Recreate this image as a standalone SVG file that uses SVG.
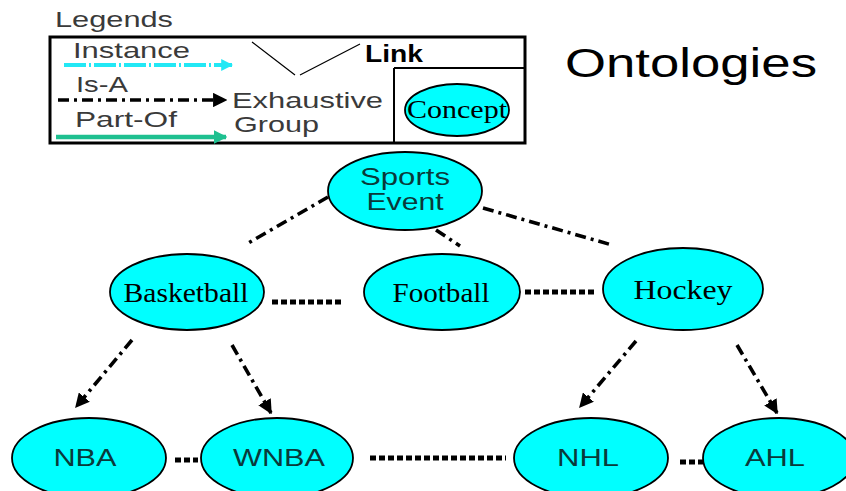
<svg xmlns="http://www.w3.org/2000/svg" width="846" height="491" viewBox="0 0 846 491">
<defs>
<style>
.node{fill:#00ffff;stroke:#000;stroke-width:1.8}
.sans{font-family:"Liberation Sans",Arial,sans-serif}
.serif{font-family:"Liberation Serif","Times New Roman",serif;fill:#000}
.lbl{fill:#0a3a3a;font-size:24px}
.leg{fill:#3a3a3a;font-size:22px}
.isa{fill:none;stroke:#000;stroke-width:3.6;stroke-dasharray:11 5 3 5}
.dots{fill:none;stroke:#000;stroke-width:5;stroke-dasharray:6 3}
</style>
<marker id="ah" viewBox="0 0 10 10" refX="9" refY="5" markerWidth="4" markerHeight="4" orient="auto" markerUnits="strokeWidth">
<path d="M0,0 L10,5 L0,10 z" fill="#000"/>
</marker>
<marker id="ahc" viewBox="0 0 10 10" refX="9" refY="5" markerWidth="3" markerHeight="3" orient="auto" markerUnits="strokeWidth">
<path d="M0,0 L10,5 L0,10 z" fill="#22e8f5"/>
</marker>
<marker id="ahg" viewBox="0 0 10 10" refX="9" refY="5" markerWidth="3" markerHeight="3" orient="auto" markerUnits="strokeWidth">
<path d="M0,0 L10,5 L0,10 z" fill="#1ec090"/>
</marker>
</defs>
<rect width="846" height="491" fill="#fff"/>

<g id="legend">
<text class="sans leg" x="55" y="27" textLength="118" lengthAdjust="spacingAndGlyphs">Legends</text>
<rect x="50" y="37" width="475" height="106" fill="none" stroke="#000" stroke-width="3"/>
<path d="M394,68 V143 M394,68 H525" fill="none" stroke="#000" stroke-width="2"/>
<text class="sans leg" x="73" y="58" textLength="117" lengthAdjust="spacingAndGlyphs">Instance</text>
<line x1="64" y1="65" x2="232" y2="65" stroke="#22e8f5" stroke-width="4" stroke-dasharray="22 3 2 3" marker-end="url(#ahc)"/>
<text class="sans leg" x="76" y="92" textLength="52" lengthAdjust="spacingAndGlyphs">Is-A</text>
<line x1="58" y1="100" x2="226" y2="100" class="isa" stroke-width="4.2" stroke-dasharray="12 6 4 6" marker-end="url(#ah)"/>
<text class="sans leg" x="75" y="127" textLength="102" lengthAdjust="spacingAndGlyphs">Part-Of</text>
<line x1="56" y1="137" x2="226" y2="137" stroke="#1ec090" stroke-width="4.5" marker-end="url(#ahg)"/>
<text class="sans leg" x="232" y="108" textLength="151" lengthAdjust="spacingAndGlyphs">Exhaustive</text>
<text class="sans leg" x="234" y="132" textLength="85" lengthAdjust="spacingAndGlyphs">Group</text>
<path d="M252,42 L295,75 M300,75 L360,44" fill="none" stroke="#000" stroke-width="1.2"/>
<text class="sans" x="365" y="62" font-size="23" font-weight="bold" fill="#000" textLength="58" lengthAdjust="spacingAndGlyphs">Link</text>
<ellipse class="node" cx="457" cy="110" rx="52" ry="26"/>
<text class="serif" x="407" y="118" font-size="25" textLength="100" lengthAdjust="spacingAndGlyphs">Concept</text>
</g>

<text class="sans" x="565" y="77" font-size="40" fill="#000" textLength="252" lengthAdjust="spacingAndGlyphs">Ontologies</text>

<g id="connectors">
<line x1="328" y1="197" x2="245" y2="245" class="isa"/>
<line x1="436" y1="230" x2="460" y2="246" class="isa"/>
<line x1="483" y1="208" x2="612" y2="245" class="isa"/>
<line x1="132" y1="340" x2="76" y2="407" class="isa" marker-end="url(#ah)"/>
<line x1="232" y1="345" x2="271" y2="413" class="isa" marker-end="url(#ah)"/>
<line x1="636" y1="341" x2="580" y2="407" class="isa" marker-end="url(#ah)"/>
<line x1="737" y1="345" x2="777" y2="413" class="isa" marker-end="url(#ah)"/>
<line x1="272" y1="302" x2="344" y2="302" class="dots"/>
<line x1="525" y1="292" x2="596" y2="292" class="dots"/>
<line x1="175" y1="460" x2="198" y2="460" class="dots"/>
<line x1="370" y1="458" x2="506" y2="458" class="dots"/>
<line x1="680" y1="462" x2="703" y2="462" class="dots"/>
</g>

<g id="sports-event">
<ellipse class="node" cx="405" cy="191" rx="77" ry="39"/>
<text class="sans lbl" x="405" y="185" text-anchor="middle" textLength="90" lengthAdjust="spacingAndGlyphs">Sports</text>
<text class="sans lbl" x="405" y="210" text-anchor="middle" textLength="77" lengthAdjust="spacingAndGlyphs">Event</text>
</g>
<g id="basketball">
<ellipse class="node" cx="187" cy="292" rx="77" ry="38"/>
<text class="serif" x="186" y="302" font-size="28" text-anchor="middle" textLength="125" lengthAdjust="spacingAndGlyphs">Basketball</text>
</g>
<g id="football">
<ellipse class="node" cx="442" cy="292" rx="78" ry="38"/>
<text class="serif" x="441" y="302" font-size="28" text-anchor="middle" textLength="97" lengthAdjust="spacingAndGlyphs">Football</text>
</g>
<g id="hockey">
<ellipse class="node" cx="683" cy="289" rx="80" ry="41"/>
<text class="serif" x="683" y="299" font-size="28" text-anchor="middle" textLength="99" lengthAdjust="spacingAndGlyphs">Hockey</text>
</g>
<g id="nba">
<ellipse class="node" cx="89" cy="458" rx="77" ry="40"/>
<text class="sans lbl" x="85" y="466" text-anchor="middle" textLength="63" lengthAdjust="spacingAndGlyphs">NBA</text>
</g>
<g id="wnba">
<ellipse class="node" cx="277" cy="458" rx="76" ry="40"/>
<text class="sans lbl" x="279" y="466" text-anchor="middle" textLength="92" lengthAdjust="spacingAndGlyphs">WNBA</text>
</g>
<g id="nhl">
<ellipse class="node" cx="591" cy="458" rx="77" ry="40"/>
<text class="sans lbl" x="588" y="466" text-anchor="middle" textLength="62" lengthAdjust="spacingAndGlyphs">NHL</text>
</g>
<g id="ahl">
<ellipse class="node" cx="779" cy="458" rx="76" ry="40"/>
<text class="sans lbl" x="775" y="466" text-anchor="middle" textLength="60" lengthAdjust="spacingAndGlyphs">AHL</text>
</g>
</svg>
